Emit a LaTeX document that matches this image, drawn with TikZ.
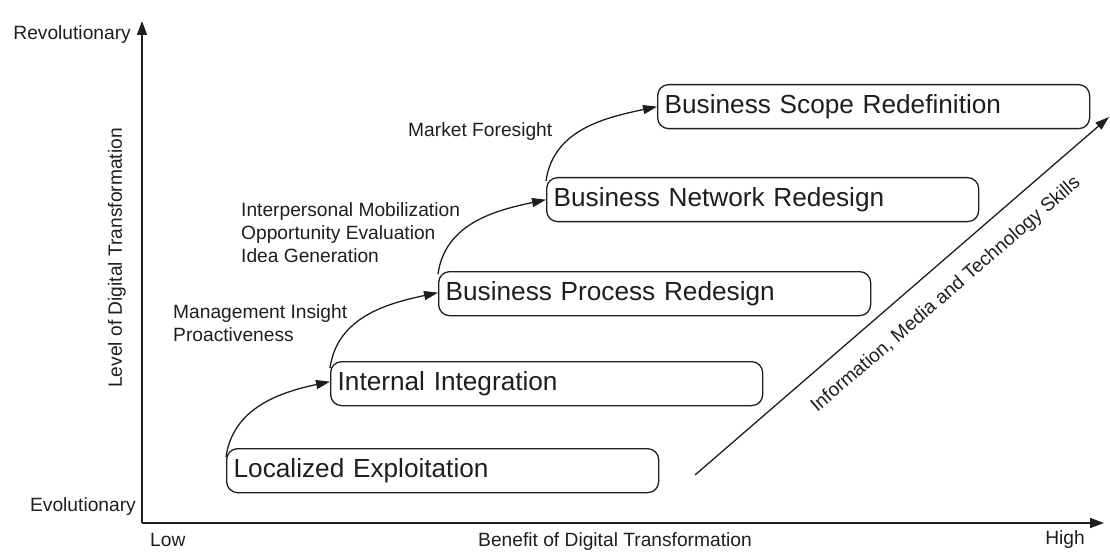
\documentclass[tikz,border=0pt]{standalone}
\usepackage{fontspec}
\setmainfont{Liberation Sans}
\usetikzlibrary{arrows.meta,calc}
\definecolor{ink}{HTML}{1E1E1E}
\begin{document}
\begin{tikzpicture}[x=1pt,y=1pt,
  every node/.style={text=ink},
  stagebox/.style={draw=ink, line width=1.3pt, rounded corners=11pt, anchor=north west,
    text width=418pt, align=left, inner xsep=7pt, inner ysep=0pt, minimum height=44pt,
    font=\fontsize{26.2}{30}\selectfont},
  lbl/.style={font=\fontsize{19.2}{23}\selectfont, align=left, inner sep=0pt},
  axis/.style={draw=ink, line width=1.6pt, -{Triangle[length=14pt,width=10pt]}},
  stepar/.style={draw=ink, line width=1.3pt, -{Triangle[length=14pt,width=9pt]}}
]
\useasboundingbox (0,0) rectangle (1110,-553);
% axes
\coordinate (O) at (142,-523);
\coordinate (ytip) at (142,-21);
\coordinate (xtip) at (1104,-523);
\draw[axis] (O) -- (ytip);
\draw[axis] (O) -- (xtip);
\node[lbl, anchor=east] (rev) at (131,-35) {Revolutionary};
\node[lbl, anchor=east] (evo) at (136,-507) {Evolutionary};
\node[lbl, anchor=west] (low) at (150,-540) {Low};
\node[lbl, anchor=east] (high) at (1085,-540) {High};
\node[lbl] (benefit) at (615,-542) {Benefit of Digital Transformation};
\node[lbl, rotate=90] (level) at (117,-258) {Level of Digital Transformation};
% stage boxes
\node[stagebox] (le)  at (226,-448) {Localized Exploitation};
\node[stagebox] (ii)  at (330,-361) {Internal Integration};
\node[stagebox] (bpr) at (438,-271) {Business Process Redesign};
\node[stagebox] (bnr) at (546,-177) {Business Network Redesign};
\node[stagebox] (bsr) at (657,-84)  {Business Scope Redefinition};
% step arrows
\draw[stepar] ([yshift=-9pt]le.north west)  to[out=82, in=192] ([yshift=2pt]ii.west);
\draw[stepar] ([yshift=-7pt]ii.north west)  to[out=82, in=192] ([yshift=1pt]bpr.west);
\draw[stepar] ([yshift=-3pt]bpr.north west) to[out=82, in=192] (bnr.west);
\draw[stepar] ([yshift=-4pt]bnr.north west) to[out=82, in=192] (bsr.west);
% labels
\node[lbl, anchor=west] (mi) at (173,-323) {Management Insight\\Proactiveness};
\node[lbl, anchor=west] (ip) at (241,-233) {Interpersonal Mobilization\\Opportunity Evaluation\\Idea Generation};
\node[lbl, anchor=west] (mf) at (408,-132) {Market Foresight};
% diagonal skills arrow
\coordinate (d1) at (695,-475);
\coordinate (d2) at (1109,-117);
\draw[stepar] (d1) -- (d2);
\node[lbl, rotate=40.84] (skills) at (946,-295) {Information, Media and Technology Skills};
\end{tikzpicture}
\end{document}
